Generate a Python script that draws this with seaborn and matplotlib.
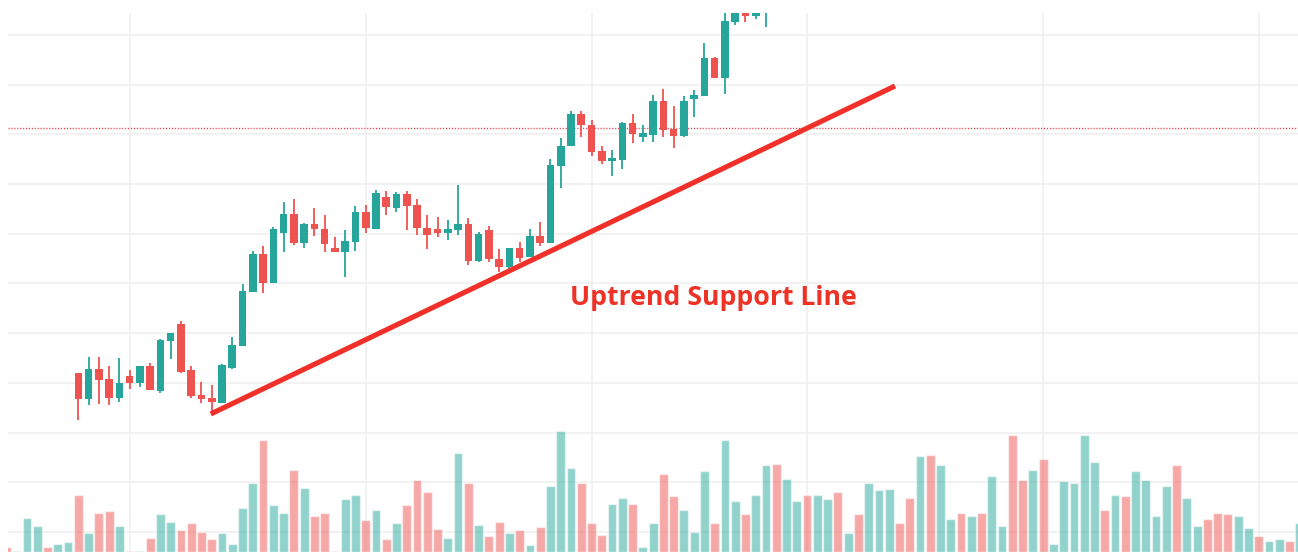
import numpy as np
import pandas as pd
import matplotlib
matplotlib.use("Agg")
import matplotlib.pyplot as plt
import seaborn as sns

# ---------------- data ----------------
# candles (index 0..67)
opens = [102.05, 96.70, 102.86, 100.78, 96.90, 101.39, 100.04, 103.46, 98.37, 108.43,
         111.91, 102.60, 97.50, 96.90, 96.02, 102.94, 107.49, 118.23, 125.94, 120.04,
         130.22, 134.04, 128.15, 131.91, 131.03, 127.14, 126.34, 128.41, 134.33, 131.03,
         137.34, 135.25, 137.95, 135.85, 131.23, 130.97, 130.22, 130.77, 131.97, 124.53,
         130.70, 124.99, 123.38, 127.14, 125.39, 129.50, 128.15, 143.70, 147.61, 154.10,
         151.89, 146.66, 144.65, 144.85, 152.29, 149.42, 149.98, 156.78, 151.09, 149.62,
         157.12, 157.67, 165.43, 161.29, 172.56, 175.43, 173.88, 175.83]
highs = [102.05, 105.27, 105.27, 103.46, 104.95, 102.60, 103.46, 104.06, 108.89, 110.10,
         112.45, 103.46, 100.24, 99.58, 103.80, 109.17, 119.90, 126.54, 127.49, 131.31,
         136.40, 137.00, 132.23, 135.19, 133.72, 129.30, 130.70, 135.53, 135.85, 138.81,
         138.55, 138.35, 138.55, 136.94, 133.72, 133.38, 132.78, 139.76, 133.12, 130.42,
         131.63, 126.88, 127.14, 128.41, 130.97, 132.31, 145.05, 149.28, 154.65, 154.65,
         152.90, 147.73, 146.86, 152.55, 154.10, 151.95, 157.99, 159.19, 155.77, 157.63,
         158.93, 168.45, 165.63, 175.03, 177.04, 176.64, 176.44, 178.00]
lows = [92.53, 95.55, 95.75, 95.55, 96.10, 98.77, 99.11, 98.51, 97.91, 104.75,
        102.05, 96.90, 95.89, 94.35, 96.02, 102.74, 107.43, 118.23, 118.03, 120.04,
        126.34, 127.75, 127.20, 129.62, 126.34, 126.28, 121.25, 126.60, 130.22, 131.03,
        133.84, 134.39, 130.77, 129.70, 126.88, 129.30, 128.75, 129.70, 123.72, 124.38,
        124.38, 122.37, 122.71, 124.38, 125.39, 127.55, 128.15, 139.15, 147.61, 149.42,
        145.71, 144.04, 141.63, 143.04, 148.21, 148.47, 148.47, 149.42, 147.26, 149.42,
        153.56, 157.67, 161.29, 158.07, 172.07, 172.68, 173.28, 171.55]
closes = [96.70, 102.86, 100.58, 96.96, 99.92, 99.98, 103.46, 98.51, 108.57, 110.10,
          102.25, 97.36, 96.76, 96.10, 103.54, 107.69, 118.49, 125.94, 120.04, 131.03,
          134.04, 128.15, 131.97, 130.91, 127.95, 126.28, 128.61, 134.33, 131.11, 138.21,
          135.33, 137.95, 135.65, 131.11, 129.70, 130.22, 130.97, 131.91, 124.53, 129.90,
          124.87, 123.38, 127.14, 125.07, 129.50, 128.15, 143.84, 147.73, 154.10, 151.83,
          146.40, 144.65, 145.11, 152.29, 150.02, 150.22, 156.78, 150.95, 149.68, 156.78,
          157.93, 165.37, 161.29, 172.88, 176.04, 173.88, 175.23, 176.90]

# volume bars (index -7 .. 119), millions
vol_index = list(range(-7, 120))
volume = [0.41, 0.10, 2.81, 2.15, 0.41, 0.66, 0.80,
          4.71, 1.55, 3.25, 3.39, 2.15, 0.10, 0.10, 1.16, 3.12, 2.50,
          1.79, 2.37, 1.65, 1.05, 1.55, 0.66, 3.61, 5.70, 9.26, 3.86,
          3.25, 6.80, 5.31, 3.00, 3.25, 0.10, 4.36, 4.71, 2.64, 3.50,
          1.05, 2.37, 3.86, 5.95, 4.96, 1.90, 1.16, 8.16, 5.70, 2.26,
          1.30, 2.50, 1.55, 1.79, 0.55, 2.04, 5.45, 10.00, 6.92, 5.70,
          2.37, 1.40, 3.99, 4.46, 3.99, 0.44, 2.37, 6.45, 4.60, 3.50,
          1.65, 6.67, 2.37, 9.26, 4.24, 3.12, 4.71, 7.19, 7.30, 6.06,
          4.24, 4.71, 4.71, 4.36, 4.96, 1.55, 3.12, 5.70, 5.10, 5.21,
          2.37, 4.49, 7.91, 8.04, 7.19, 2.75, 3.25, 3.00, 3.25, 6.31,
          2.15, 9.64, 5.95, 6.80, 7.66, 0.66, 5.84, 5.70, 9.64, 7.41,
          3.50, 4.71, 4.60, 6.67, 5.95, 3.00, 5.45, 7.19, 4.49, 2.15,
          2.75, 3.25, 3.12, 3.00, 2.01, 1.30, 0.91, 1.05, 0.91, 2.40]
vol_dir = ["down", "up", "up", "up", "down", "up", "up",
           "down", "up", "down", "down", "up", "down", "up", "down", "up", "up",
           "down", "down", "down", "down", "up", "up", "up", "up", "down", "up",
           "up", "down", "up", "down", "down", "down", "up", "up", "down", "up",
           "down", "up", "down", "down", "down", "down", "up", "up", "down", "up",
           "down", "down", "up", "down", "up", "down", "up", "up", "up", "down",
           "down", "down", "up", "up", "down", "up", "up", "down", "down", "up",
           "up", "up", "down", "up", "up", "down", "up", "up", "down", "up",
           "up", "down", "up", "up", "down", "up", "down", "up", "up", "up",
           "down", "down", "up", "down", "up", "up", "down", "up", "down", "up",
           "up", "down", "down", "up", "down", "up", "up", "up", "up", "up",
           "down", "up", "down", "up", "up", "up", "up", "down", "up", "up",
           "down", "down", "down", "up", "up", "down", "up", "up", "down", "up"]

# chart furniture
price_grid = [70, 80, 90, 100, 110, 120, 130, 140, 150, 160, 170]
month_ticks = [5, 28, 50, 71, 94, 115]
last_price = 151.29
trend_x = [12.9, 79.57]
trend_y = [93.74, 159.74]
label_text = "Uptrend Support Line"
label_x, label_y = 47.9, 115.67

TEAL = "#26a69a"
RED = "#ef5350"

# ---------------- plot ----------------
sns.set_theme(style="white")
plt.rcParams["font.family"] = ["Open Sans", "DejaVu Sans"]

fig = plt.figure(figsize=(12.98, 5.52), dpi=100)
ax = fig.add_axes([8 / 1298, 0, 1290 / 1298, 539 / 552])
ax2 = ax.twinx()

# volume bars
vol_df = pd.DataFrame({"idx": vol_index, "volume": volume, "dir": vol_dir})
sns.barplot(data=vol_df, x="idx", y="volume", hue="dir",
            palette={"up": TEAL, "down": RED}, native_scale=True, dodge=False,
            width=0.86, alpha=0.5, saturation=1, edgecolor="white", linewidth=1,
            errorbar=None, legend=False, ax=ax2)

# candles
o = np.array(opens); c = np.array(closes); h = np.array(highs); l = np.array(lows)
xi = np.arange(len(o))
up = c >= o
cols = np.where(up, TEAL, RED)
ax.vlines(xi, l, h, colors=cols, linewidth=1.3, zorder=3)
body_low = np.minimum(o, c)
body_h = np.maximum(np.abs(c - o), 0.6)
ax.bar(xi, body_h, bottom=body_low, width=0.74, color=cols, linewidth=0, zorder=4)

# last price dotted line
ax.axhline(last_price, color="#f23645", linewidth=1.0, linestyle=(0, (0.8, 1.3)), zorder=2)

# trend line + label
ax.plot(trend_x, trend_y, color="#f1302a", linewidth=3.7, solid_capstyle="butt", zorder=6)
ax.text(label_x, label_y, label_text, color="#ee3226", fontsize=19.2, fontweight="bold",
        ha="left", va="baseline", zorder=7)

# axes styling
ax.set_xlim(-6.85, 118.83)
ax.set_ylim(65.97, 174.43)
ax2.set_ylim(0, 44.55)
ax.set_yticks(price_grid)
ax.set_xticks(month_ticks)
ax.grid(True, color="#efefef", linewidth=1.1)
ax.set_axisbelow(True)
for a in (ax, ax2):
    a.tick_params(length=0, labelleft=False, labelbottom=False, labelright=False)
    a.set_xlabel("")
    a.set_ylabel("")
    for s in a.spines.values():
        s.set_visible(False)
ax2.grid(False)
ax2.set_yticks([])
ax.set_xlim(-6.85, 118.83)

fig.savefig("out.png", dpi=100)
